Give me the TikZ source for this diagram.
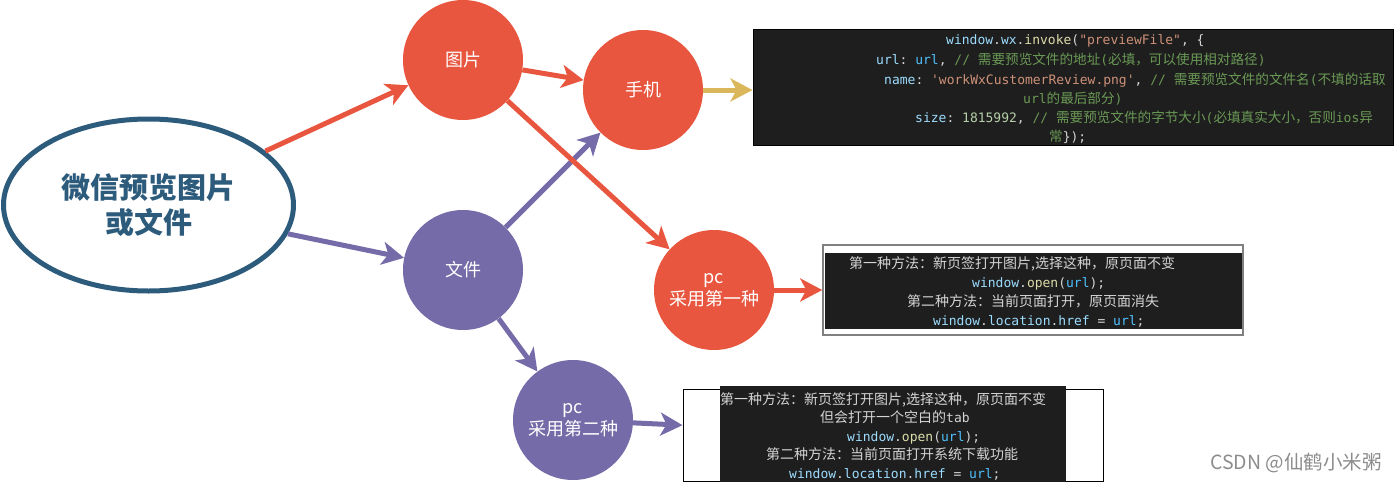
\documentclass[tikz,border=0pt]{standalone}
\usepackage{fontspec}
\usetikzlibrary{arrows.meta,shapes.geometric}
\setmainfont{Noto Sans CJK SC}
\newfontfamily\monof{DejaVu Sans Mono}
\newfontfamily\cjkf{Noto Sans CJK SC}
\definecolor{cred}{HTML}{E8563F}
\definecolor{cpur}{HTML}{756BA8}
\definecolor{cblue}{HTML}{2D5B7C}
\definecolor{cyel}{HTML}{D9B75A}
\definecolor{codebg}{HTML}{1E1E1E}
\definecolor{ckey}{HTML}{9CDCFE}
\definecolor{cvar}{HTML}{4FC1FF}
\definecolor{cfn}{HTML}{DCDCAA}
\definecolor{cstr}{HTML}{CE9178}
\definecolor{ccom}{HTML}{6A9955}
\definecolor{cnum}{HTML}{B5CEA8}
\definecolor{cpun}{HTML}{D4D4D4}
\definecolor{cwm}{HTML}{8C8C8C}
\newcommand\xk[1]{\textcolor{ckey}{#1}}
\newcommand\xv[1]{\textcolor{cvar}{#1}}
\newcommand\xf[1]{\textcolor{cfn}{#1}}
\newcommand\xs[1]{\textcolor{cstr}{#1}}
\newcommand\xg[1]{\textcolor{ccom}{#1}}
\newcommand\xn[1]{\textcolor{cnum}{#1}}
\newcommand\xp[1]{\textcolor{cpun}{#1}}
\newcommand\xz[1]{{\cjkf\fontsize{13.6}{15}\selectfont #1}}
\begin{document}
\begin{tikzpicture}[x=1pt,y=-1pt,
  circ/.style={circle, minimum size=120pt, inner sep=0pt, text=white,
    font=\fontsize{18}{22}\selectfont, align=center},
  redc/.style={circ, fill=cred},
  purc/.style={circ, fill=cpur},
  arr/.style={line width=5pt, -{Stealth[length=22pt,width=23pt,inset=6pt]}},
  code/.style={anchor=base west, inner sep=0pt, text=cpun,
    font=\monof\fontsize{13}{15}\selectfont},
  zh/.style={anchor=base west, inner sep=0pt, text=cpun,
    font=\cjkf\fontsize{14}{16}\selectfont}]
\useasboundingbox (0,0) rectangle (1394,482);

% main ellipse
\node[ellipse, draw=cblue, line width=5pt, fill=white, minimum width=290pt,
  minimum height=172pt, inner sep=0pt, text=cblue, align=center,
  font=\bfseries\fontsize{29}{35}\selectfont] (main) at (148.5,205) {微信预览图片\\或文件};

% circles
\node[redc] (img) at (463,60) {图片};
\node[redc] (phone) at (643,90) {手机};
\node[purc] (file) at (463,270) {文件};
\node[redc] (pc1) at (714,290) {pc\\采用第一种};
\node[purc] (pc2) at (573,420) {pc\\采用第二种};

% code boxes
\node[draw=black, line width=1pt, fill=codebg, minimum width=640pt,
  minimum height=116pt, inner sep=0pt] (box1) at (1073,87) {};
\node[draw=gray, line width=1.5pt, fill=white, minimum width=420pt,
  minimum height=90pt, inner sep=0pt] (box2) at (1033,290) {};
\node[fill=codebg, minimum width=417pt, minimum height=76pt, inner sep=0pt]
  (box2bg) at (1033,291) {};
\node[draw=black, line width=1pt, fill=white, minimum width=420pt,
  minimum height=92pt, inner sep=0pt] (box3) at (893,435) {};
\node[fill=codebg, minimum width=346pt, minimum height=96pt, inner sep=0pt]
  (box3bg) at (893,434) {};

% arrows
\draw[arr, cpur] (main) -- (file);
\draw[arr, cpur] (file) -- (phone);
\draw[arr, cpur] (file) -- (pc2);
\draw[arr, cpur] (pc2) -- (box3);
\draw[arr, cred] (main) -- (img);
\draw[arr, cred] (img) -- (phone);
\draw[arr, cred] (img) -- (pc1);
\draw[arr, cred] (pc1) -- (box2);
\draw[arr, cyel] (phone.east) -- (phone.east -| box1.west);

% box1 text
\node[code] (b1l1) at (946,44) {\xk{window}\xp{.}\xk{wx}\xp{.}\xf{invoke}\xp{(}\xs{"previewFile"}\xp{,\ \{}};
\node[code] (b1l2) at (876,64) {\xk{url}\xp{:\ }\xv{url}\xp{,\ }\xg{//\ \xz{需要预览文件的地址}(\xz{必填，可以使用相对路径})}};
\node[code] (b1l3) at (884,84) {\xk{name}\xp{:\ }\xs{\textquotesingle workWxCustomerReview.png\textquotesingle}\xp{,\ }\xg{//\ \xz{需要预览文件的文件名}(\xz{不填的话取}}};
\node[code] (b1l4) at (1023,103) {\xg{url\xz{的最后部分})}};
\node[code] (b1l5) at (915,122) {\xk{size}\xp{:\ }\xn{1815992}\xp{,\ }\xg{//\ \xz{需要预览文件的字节大小}(\xz{必填真实大小，否则}ios\xz{异}}};
\node[code] (b1l6) at (1049,141) {\xg{\xz{常}}\xp{\});}};

% box2 text
\node[zh] (b2l1) at (849,268) {第一种方法：新页签打开图片,选择这种，原页面不变};
\node[code] (b2l2) at (972,287) {\xk{window}\xp{.}\xf{open}\xp{(}\xv{url}\xp{);}};
\node[zh] (b2l3) at (907,306) {第二种方法：当前页面打开，原页面消失};
\node[code] (b2l4) at (933,325) {\xk{window}\xp{.}\xk{location}\xp{.}\xk{href}\xp{\ =\ }\xv{url}\xp{;}};

% box3 text
\node[zh] (b3l1) at (720,404) {第一种方法：新页签打开图片,选择这种，原页面不变};
\node[zh] (b3l2) at (820,422) {但会打开一个空白的{\monof\fontsize{13}{15}\selectfont tab}};
\node[code] (b3l3) at (847,441) {\xk{window}\xp{.}\xf{open}\xp{(}\xv{url}\xp{);}};
\node[zh] (b3l4) at (766,459) {第二种方法：当前页面打开系统下载功能};
\node[code] (b3l5) at (789,478) {\xk{window}\xp{.}\xk{location}\xp{.}\xk{href}\xp{\ =\ }\xv{url}\xp{;}};

% watermark
\node[anchor=west, inner sep=0pt, text=cwm, font=\fontsize{19.5}{21}\selectfont] (wm) at (1210,463) {CSDN @仙鹤小米粥};
\end{tikzpicture}
\end{document}
